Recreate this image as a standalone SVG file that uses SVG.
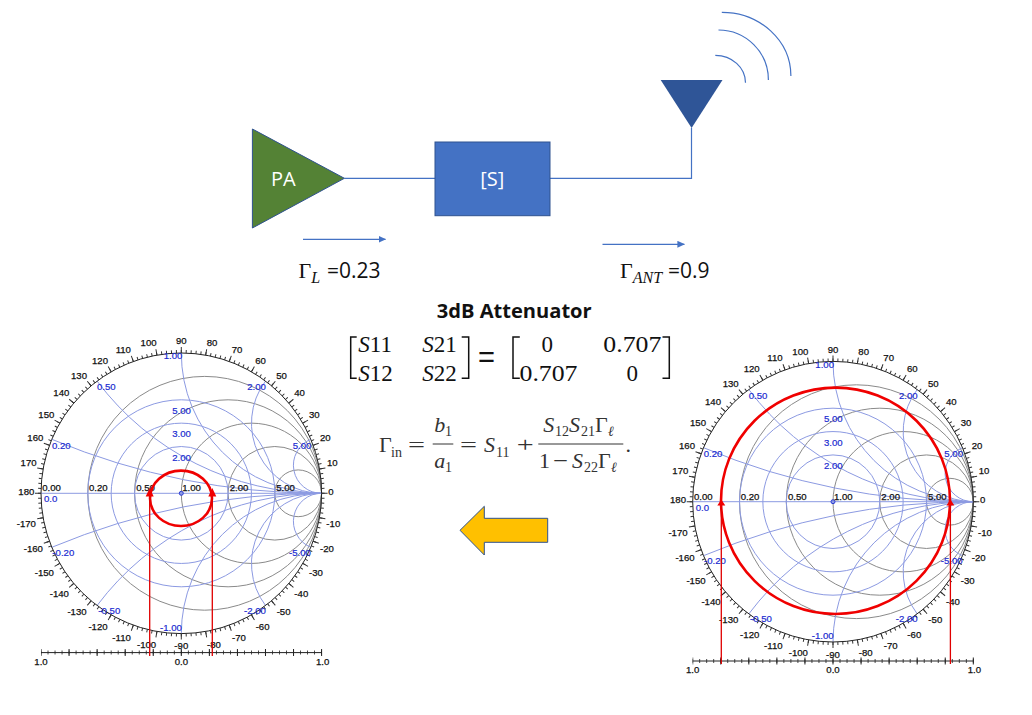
<svg xmlns="http://www.w3.org/2000/svg" xmlns:xlink="http://www.w3.org/1999/xlink" width="1032" height="715" viewBox="0 0 1032 715">
<style>
text{font-family:"Liberation Sans",Arial,sans-serif}
.k,.b{font-size:9.6px;text-anchor:middle;dominant-baseline:central}
.k{fill:#111;stroke:#111;stroke-width:.25}
.b{fill:#1a2bd0;stroke:#1a2bd0;stroke-width:.2}
.gc{fill:none;stroke:#8a8a8a;stroke-width:1}
.bc{fill:none;stroke:#8c9ae2;stroke-width:1}
.red{fill:none;stroke:#f00000;stroke-width:2.6}
.rl{stroke:#e00000;stroke-width:1.3;fill:none}
.ra{fill:#f00000}
.ui{font-family:"Open Sans",sans-serif}
.w{fill:#fff;font-size:20px;font-family:"Open Sans",sans-serif;text-anchor:middle}
.val{font-family:"Open Sans",sans-serif;font-size:21px;fill:#111}
.m{font-family:"Liberation Serif",serif;font-size:23px;fill:#111}
.mc{font-family:"Liberation Serif",serif;font-size:23px;fill:#111;text-anchor:middle}
.f{font-family:"Liberation Serif",serif;font-size:22px;fill:#333}
.s{font-family:"Liberation Serif",serif;font-size:14px;fill:#333}
.g{font-family:"Liberation Serif",serif;font-size:22px;fill:#111}
.i{font-style:italic}
.wire{fill:none;stroke:#4472c4;stroke-width:1.2}
.br{fill:none;stroke:#111;stroke-width:1.5}
.bar{stroke:#333;stroke-width:1}
</style>
<defs>
<marker id="ah" markerWidth="8" markerHeight="8" refX="7" refY="3.5" orient="auto" markerUnits="userSpaceOnUse"><path d="M0,0L7.5,3.5L0,7Z" fill="#4472c4"/></marker>
<g id="chart">
<circle class="gc" cx="23.4" r="116.9"/><circle class="gc" cx="46.8" r="93.5"/><circle class="gc" cx="70.15" r="70.15"/><circle class="gc" cx="93.5" r="46.77"/><circle class="gc" cx="116.9" r="23.38"/>
<circle class="bc" r="46.77"/><circle class="bc" r="70.15"/><circle class="bc" r="93.5"/>
<path class="bc" d="M-140.3,0H140.3"/>
<path class="bc" d="M-129.5,-54A701.5,701.5 0 0 0 140.3,0M-84.2,-112.2A280.6,280.6 0 0 0 140.3,0M0,-140.3A140.3,140.3 0 0 0 140.3,0M84.2,-112.2A70.15,70.15 0 0 0 140.3,0M129.5,-54A28.06,28.06 0 0 0 140.3,0"/>
<path class="bc" d="M-129.5,54A701.5,701.5 0 0 1 140.3,0M-84.2,112.2A280.6,280.6 0 0 1 140.3,0M0,140.3A140.3,140.3 0 0 1 140.3,0M84.2,112.2A70.15,70.15 0 0 1 140.3,0M129.5,54A28.06,28.06 0 0 1 140.3,0"/>
<circle r="2" fill="#8c9ae2" stroke="#2a3bd6" stroke-width="1"/>
<circle r="140.3" fill="none" stroke="#222" stroke-width="1"/>
<circle r="141.8" fill="none" stroke="#333" stroke-width="3" pathLength="360" stroke-dasharray="0.4 1.6" stroke-dashoffset="0.2"/>
<circle r="143.3" fill="none" stroke="#333" stroke-width="6" pathLength="360" stroke-dasharray="0.4 9.6" stroke-dashoffset="0.2"/>
<path d="M-140.3,159.3H140.6" stroke="#222" stroke-width="1" fill="none"/>
<path d="M-140.3,159.3H141" stroke="#222" stroke-width="4" fill="none" stroke-dasharray="0.8 6.215" stroke-dashoffset="0.4"/>
<path d="M-140.3,159.3H141" stroke="#222" stroke-width="7" fill="none" stroke-dasharray="1 27.06" stroke-dashoffset="0.5"/>
</g>
</defs>
<rect width="1032" height="715" fill="#fff"/>

<g id="connectors">
<path class="wire" d="M344.4,178.3H435"/>
<path class="wire" d="M550,178.3H691.5V128"/>
<path class="wire" marker-end="url(#ah)" d="M303,239.3H385.5"/>
<path class="wire" marker-end="url(#ah)" d="M602.5,244.3H684.4"/>
</g>

<g id="pa"><path d="M252.4,129L344.4,178.3L252.4,228Z" fill="#548235" stroke="#2f528f" stroke-width="1"/><text class="w" x="283.4" y="185.7">PA</text></g>
<g id="s-block"><rect x="435" y="142" width="115" height="73.7" fill="#4472c4" stroke="#2f528f" stroke-width="1"/><text class="w" x="492.2" y="185.7">[S]</text></g>
<g id="antenna"><path d="M660.7,80H722.5L691.6,128Z" fill="#2f5597"/>
<path class="wire" d="M721.8,12.3A69,63.7 0 0 1 790.9,76M718.5,30A50,50 0 0 1 768.4,80M715.3,55.3A30.2,27.4 0 0 1 745.5,82.7"/></g>

<g id="gamma-l"><text class="g" x="298.5" y="278.3">Γ<tspan class="i" dy="5" style="font-size:16px">L</tspan></text><text class="val" x="327" y="278.3">=0.23</text></g>
<g id="gamma-ant"><text class="g" x="620" y="277.7">Γ<tspan class="i" dy="5" style="font-size:16px">ANT</tspan></text><text class="val" x="668" y="277.7">=0.9</text></g>

<g id="attenuator-title"><text x="436.7" y="318" class="ui" font-weight="bold" font-size="20" fill="#111" textLength="155" lengthAdjust="spacingAndGlyphs">3dB Attenuator</text></g>
<g id="matrix">
<path class="br" d="M356.7,337H350.7V378.3H356.7M461.7,337H468.7V378.3H461.7M519.8,337H513V378.3H519.8M662.5,337H669.3V378.3H662.5"/>
<text class="m" x="358.3" y="351.7"><tspan class="i">S</tspan>11</text>
<text class="m" x="422.3" y="351.7"><tspan class="i">S</tspan>21</text>
<text class="m" x="358.3" y="380.7"><tspan class="i">S</tspan>12</text>
<text class="m" x="422.3" y="380.7"><tspan class="i">S</tspan>22</text>
<text x="478" y="367" font-family="Liberation Sans" font-size="30" fill="#111" textLength="17" lengthAdjust="spacingAndGlyphs">=</text>
<text class="mc" x="547.3" y="351.7">0</text>
<text class="m" x="603.3" y="351.7" textLength="58" lengthAdjust="spacingAndGlyphs">0.707</text>
<text class="m" x="519.5" y="380.7" textLength="58" lengthAdjust="spacingAndGlyphs">0.707</text>
<text class="mc" x="632.3" y="380.7">0</text>
</g>
<g id="formula">
<text class="f" x="379" y="452.3">Γ</text><text class="s" x="391" y="456.7">in</text>
<text class="f" x="408" y="452.3" textLength="17" lengthAdjust="spacingAndGlyphs">=</text>
<text class="f i" x="434.3" y="431.7">b</text><text class="s" x="445" y="435.5">1</text>
<path class="bar" d="M432.7,444H453.3M538.3,444H623.3"/>
<text class="f i" x="434.3" y="468.3">a</text><text class="s" x="445" y="472">1</text>
<text class="f" x="460" y="452.3" textLength="17" lengthAdjust="spacingAndGlyphs">=</text>
<text class="f i" x="484" y="452.3">S</text><text class="s" x="496" y="456.5">11</text>
<text class="f" x="516.7" y="452.3" textLength="17" lengthAdjust="spacingAndGlyphs">+</text>
<text class="f i" x="543.3" y="431.7">S</text><text class="s" x="555" y="435.5">12</text>
<text class="f i" x="569" y="431.7">S</text><text class="s" x="581" y="435.5">21</text>
<text class="f" x="595" y="431.7">Γ</text><text class="s i" x="608" y="435.5">ℓ</text>
<text class="f" x="539" y="468.3">1</text><text class="f" x="553" y="468.3" textLength="15" lengthAdjust="spacingAndGlyphs">−</text>
<text class="f i" x="572" y="468.3">S</text><text class="s" x="584" y="472.3">22</text>
<text class="f" x="598" y="468.3">Γ</text><text class="s i" x="611" y="472.3">ℓ</text>
<text class="f" x="625.5" y="452.3">.</text>
</g>

<g id="yellow-arrow"><path d="M460,530.3L484.3,506.3V518.3H547.7V542.3H484.3V555Z" fill="#ffc000" stroke="#2f528f" stroke-width="1"/></g>

<g id="chart-left" transform="translate(181.3,493.3)">
<use href="#chart" xlink:href="#chart"/>
<g>
<text class="k" x="0" y="-152.7">90</text><text class="k" x="30.7" y="-150.7">80</text><text class="k" x="55.7" y="-144">70</text><text class="k" x="79.3" y="-133.3">60</text><text class="k" x="100.3" y="-118.3">50</text><text class="k" x="118.3" y="-100.7">40</text><text class="k" x="133" y="-79.3">30</text><text class="k" x="144" y="-56">20</text><text class="k" x="151" y="-31">10</text><text class="k" x="149.7" y="-2">0</text>
<text class="k" x="152" y="30.7">-10</text><text class="k" x="145.7" y="55.7">-20</text><text class="k" x="134.7" y="79.3">-30</text><text class="k" x="120" y="100.3">-40</text><text class="k" x="102.3" y="118.3">-50</text><text class="k" x="81.3" y="133">-60</text><text class="k" x="57.7" y="144.3">-70</text><text class="k" x="32.7" y="151">-80</text><text class="k" x="0" y="152.7">-90</text>
<text class="k" x="-34.7" y="151">-100</text><text class="k" x="-59.7" y="144.3">-110</text><text class="k" x="-83.3" y="133">-120</text><text class="k" x="-104.3" y="118.3">-130</text><text class="k" x="-122" y="100.3">-140</text><text class="k" x="-137" y="79.3">-150</text><text class="k" x="-148" y="55.7">-160</text><text class="k" x="-155" y="30.7">-170</text>
<text class="k" x="-155" y="-2">180</text><text class="k" x="-152.7" y="-31">170</text><text class="k" x="-146" y="-56">160</text><text class="k" x="-135" y="-79.3">150</text><text class="k" x="-120" y="-100.7">140</text><text class="k" x="-102.3" y="-118.3">130</text><text class="k" x="-81.3" y="-133.3">120</text><text class="k" x="-58" y="-144">110</text><text class="k" x="-32.7" y="-150.7">100</text>
<text class="k" x="-129.7" y="-5.7">0.00</text><text class="k" x="-83" y="-5.7">0.20</text><text class="k" x="-35.7" y="-5.7">0.50</text><text class="k" x="10.3" y="-5.7">1.00</text><text class="k" x="57.7" y="-5.7">2.00</text><text class="k" x="104.3" y="-5.7">5.00</text>
<text class="b" x="-8.3" y="-137.7">1.00</text><text class="b" x="-75" y="-106.7">0.50</text><text class="b" x="-120" y="-48.3">0.20</text><text class="b" x="-130.7" y="5.7">0.0</text><text class="b" x="-118" y="59">-0.20</text><text class="b" x="-72" y="117.3">-0.50</text><text class="b" x="-10.3" y="134">-1.00</text><text class="b" x="75.3" y="-106.7">2.00</text><text class="b" x="120.7" y="-48.3">5.00</text><text class="b" x="118.7" y="59">-5.00</text><text class="b" x="73.7" y="117.3">-2.00</text>
<text class="b" x="0.3" y="-83">5.00</text><text class="b" x="0.3" y="-59.7">3.00</text><text class="b" x="0.3" y="-36.3">2.00</text>
<text class="k" x="-140.3" y="168.3">1.0</text><text class="k" x="0" y="168.3">0.0</text><text class="k" x="141.3" y="168.3">1.0</text>
</g>
</g>
<g id="reflection-left">
<ellipse class="red" cx="181" cy="498.3" rx="31" ry="27.7"/>
<path class="rl" d="M149.7,656V494M212.3,656V494"/>
<path class="ra" d="M149.7,488L153.7,496.5H145.7ZM212.3,488L216.3,496.5H208.3Z"/>
</g>

<g id="chart-right" transform="translate(833,501.7)">
<use href="#chart" xlink:href="#chart"/>
<g>
<text class="k" x="0" y="-152.7">90</text><text class="k" x="30.7" y="-150.7">80</text><text class="k" x="55.7" y="-144">70</text><text class="k" x="79.3" y="-133.3">60</text><text class="k" x="100.3" y="-118.3">50</text><text class="k" x="118.3" y="-100.7">40</text><text class="k" x="133" y="-79.3">30</text><text class="k" x="144" y="-56">20</text><text class="k" x="151" y="-31">10</text><text class="k" x="149.7" y="-2">0</text>
<text class="k" x="152" y="30.7">-10</text><text class="k" x="145.7" y="55.7">-20</text><text class="k" x="134.7" y="79.3">-30</text><text class="k" x="120" y="100.3">-40</text><text class="k" x="102.3" y="118.3">-50</text><text class="k" x="81.3" y="133">-60</text><text class="k" x="57.7" y="144.3">-70</text><text class="k" x="32.7" y="151">-80</text><text class="k" x="0" y="152.7">-90</text>
<text class="k" x="-34.7" y="151">-100</text><text class="k" x="-59.7" y="144.3">-110</text><text class="k" x="-83.3" y="133">-120</text><text class="k" x="-104.3" y="118.3">-130</text><text class="k" x="-122" y="100.3">-140</text><text class="k" x="-137" y="79.3">-150</text><text class="k" x="-148" y="55.7">-160</text><text class="k" x="-155" y="30.7">-170</text>
<text class="k" x="-155" y="-2">180</text><text class="k" x="-152.7" y="-31">170</text><text class="k" x="-146" y="-56">160</text><text class="k" x="-135" y="-79.3">150</text><text class="k" x="-120" y="-100.7">140</text><text class="k" x="-102.3" y="-118.3">130</text><text class="k" x="-81.3" y="-133.3">120</text><text class="k" x="-58" y="-144">110</text><text class="k" x="-32.7" y="-150.7">100</text>
<text class="k" x="-129.7" y="-5.7">0.00</text><text class="k" x="-83" y="-5.7">0.20</text><text class="k" x="-35.7" y="-5.7">0.50</text><text class="k" x="10.3" y="-5.7">1.00</text><text class="k" x="57.7" y="-5.7">2.00</text><text class="k" x="104.3" y="-5.7">5.00</text>
<text class="b" x="-8.3" y="-137.7">1.00</text><text class="b" x="-75" y="-106.7">0.50</text><text class="b" x="-120" y="-48.3">0.20</text><text class="b" x="-130.7" y="5.7">0.0</text><text class="b" x="-118" y="59">-0.20</text><text class="b" x="-72" y="117.3">-0.50</text><text class="b" x="-10.3" y="134">-1.00</text><text class="b" x="75.3" y="-106.7">2.00</text><text class="b" x="120.7" y="-48.3">5.00</text><text class="b" x="118.7" y="59">-5.00</text><text class="b" x="73.7" y="117.3">-2.00</text>
<text class="b" x="0.3" y="-83">5.00</text><text class="b" x="0.3" y="-59.7">3.00</text><text class="b" x="0.3" y="-36.3">2.00</text>
<text class="k" x="-140.3" y="168.3">1.0</text><text class="k" x="0" y="168.3">0.0</text><text class="k" x="141.3" y="168.3">1.0</text>
</g>
</g>
<g id="reflection-right">
<ellipse class="red" cx="835.5" cy="500.8" rx="114.5" ry="113.2"/>
<path class="rl" d="M721.3,664V503M950.4,664V503"/>
<path class="ra" d="M721.3,499.5L725.3,505.5H717.3ZM950.4,499.5L954.4,505.5H946.4Z"/>
</g>
</svg>
